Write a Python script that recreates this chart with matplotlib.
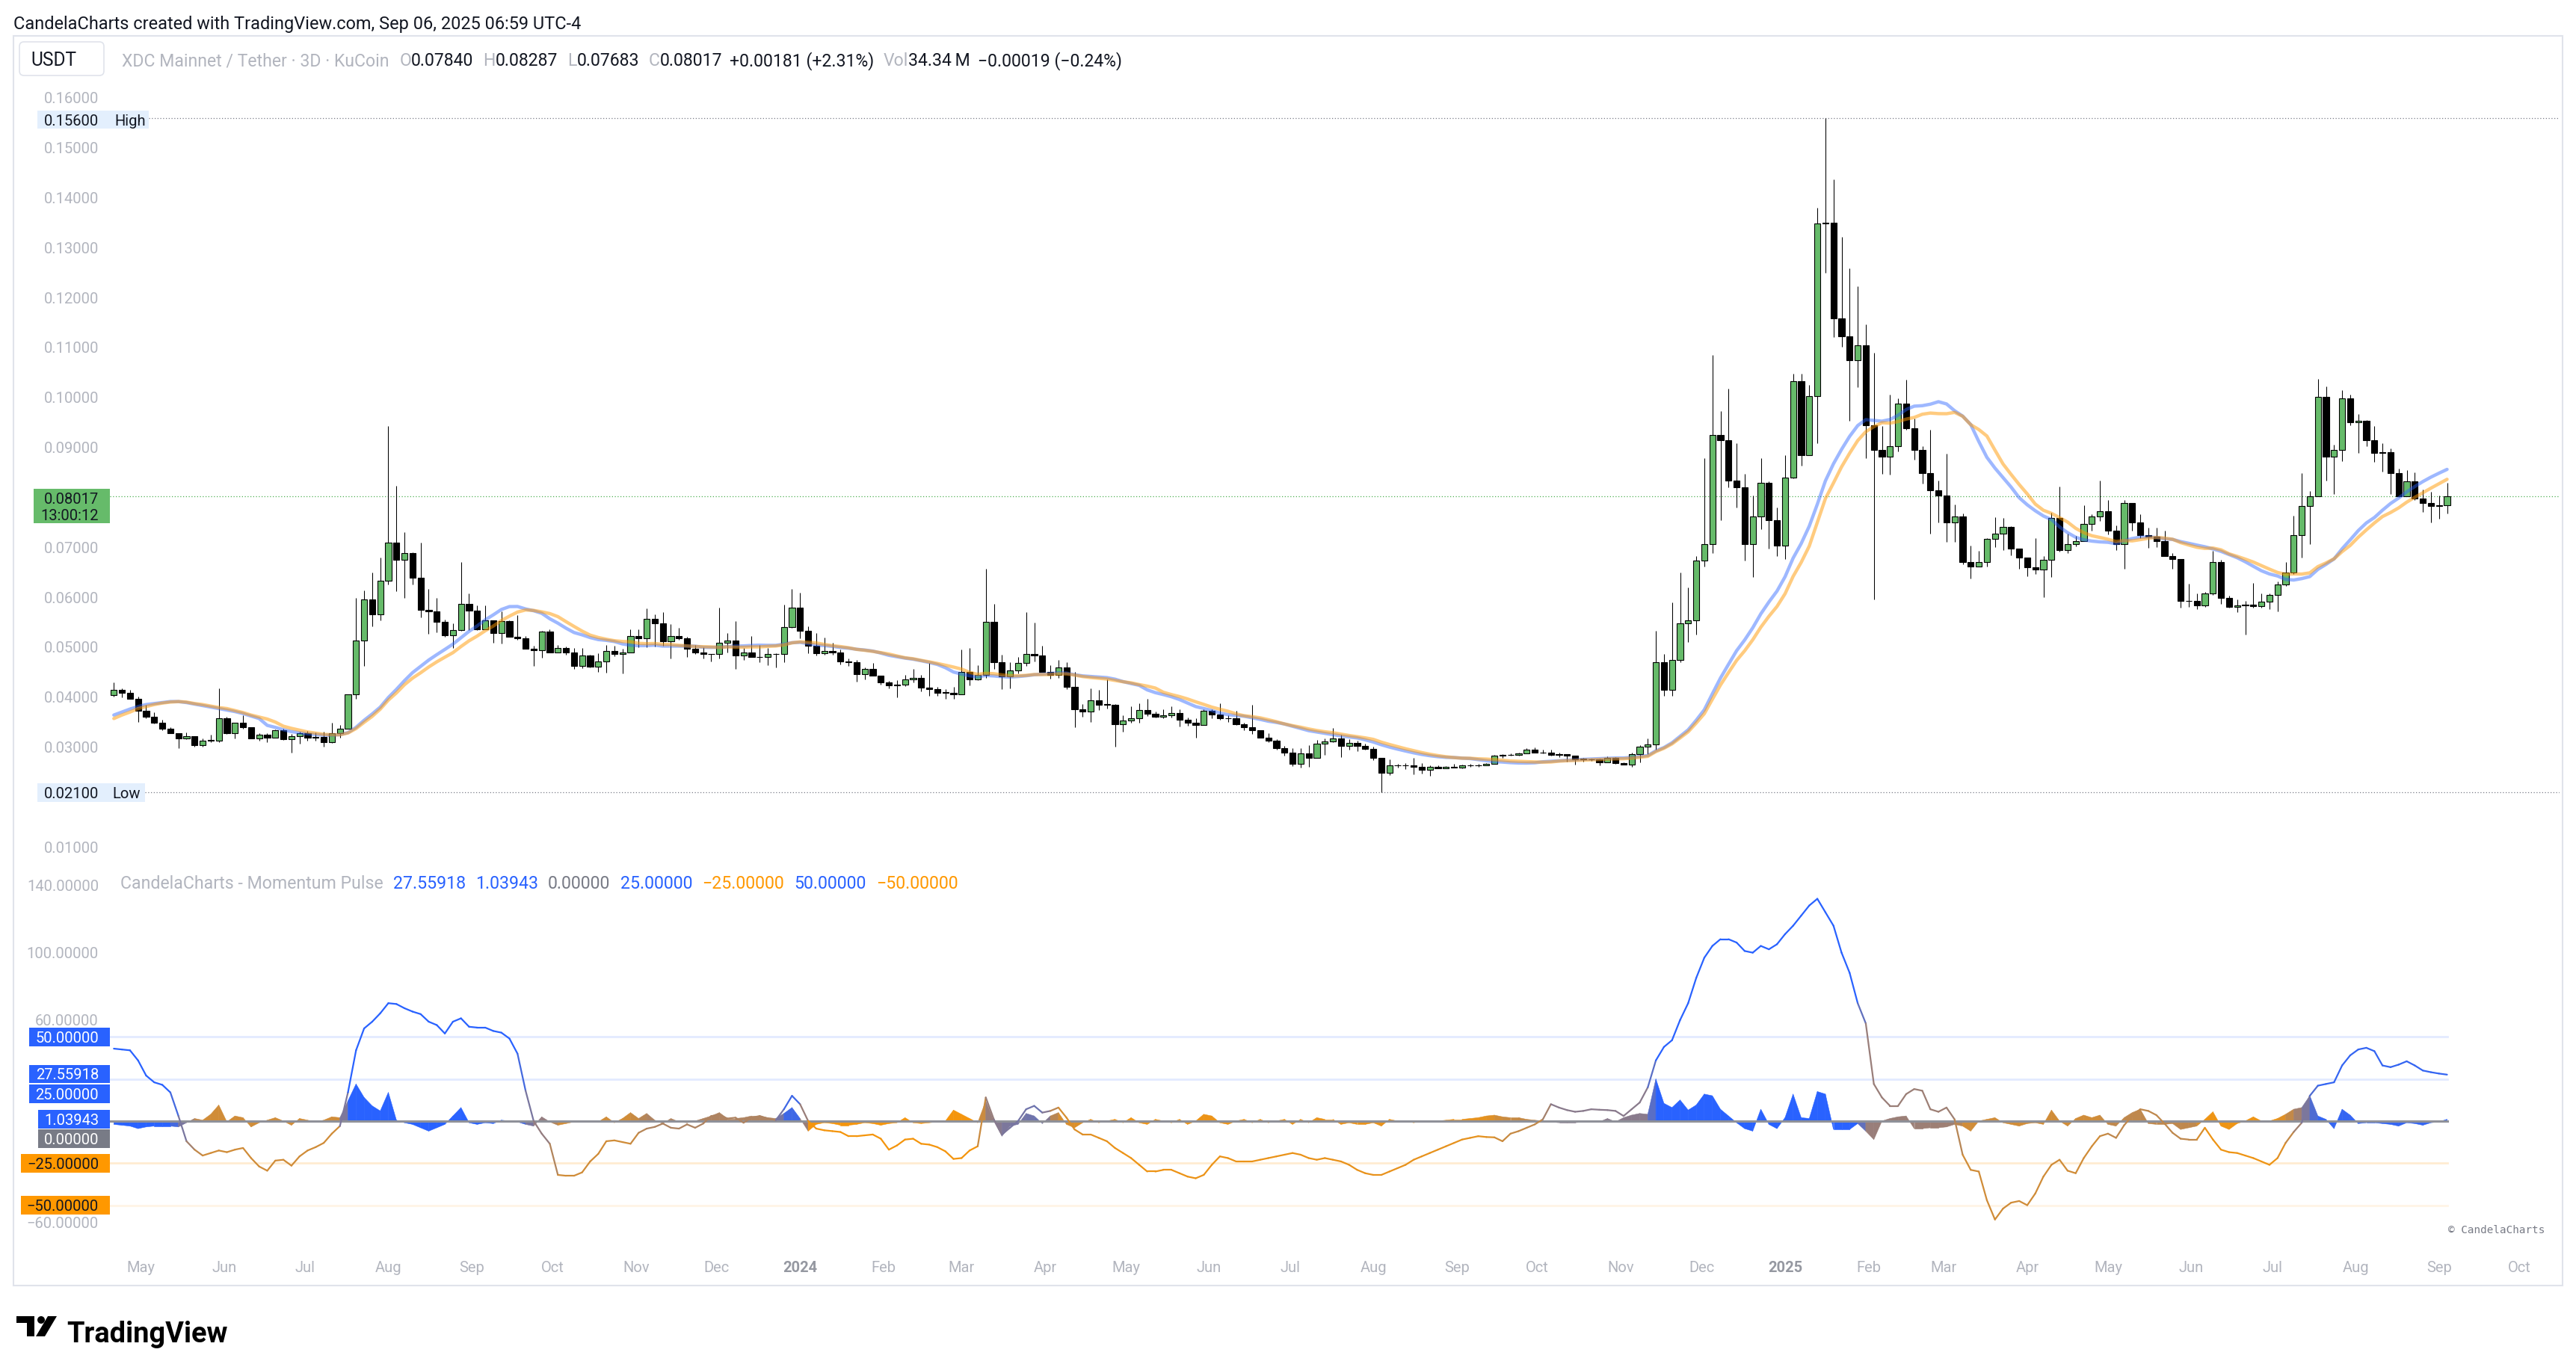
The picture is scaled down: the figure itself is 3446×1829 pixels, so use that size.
import numpy as np
import pandas as pd
import matplotlib
matplotlib.use("Agg")
import matplotlib.pyplot as plt
import matplotlib.dates as mdates
from matplotlib.collections import LineCollection, PolyCollection
from matplotlib.patches import Rectangle, Circle, Polygon, FancyBboxPatch
from matplotlib.transforms import Affine2D

# ---------------- data (3D candles, XDC/USDT KuCoin) ----------------
first_open = 0.0404
closes = [
    .0415, .0409, .0397, .0373, .0360, .0349, .0336, .0328, .0317, .0321,
    .0303, .0313, .0313, .0358, .0327, .0349, .0339, .0317, .0324, .0319,
    .0334, .0315, .0321, .0328, .0319, .0320, .0309, .0328, .0337, .0405,
    .0513, .0595, .0566, .0633, .0710, .0675, .0689, .0639, .0575, .0571,
    .0551, .0524, .0534, .0586, .0573, .0536, .0553, .0528, .0552, .0521,
    .0517, .0497, .0494, .0531, .0490, .0499, .0490, .0463, .0483, .0461,
    .0471, .0493, .0487, .0490, .0522, .0517, .0556, .0547, .0512, .0522,
    .0517, .0497, .0490, .0486, .0486, .0509, .0513, .0483, .0490, .0480,
    .0481, .0486, .0487, .0540, .0579, .0533, .0503, .0488, .0493, .0490,
    .0472, .0470, .0446, .0456, .0443, .0430, .0423, .0425, .0435, .0438,
    .0419, .0416, .0409, .0409, .0406, .0450, .0435, .0445, .0550, .0470,
    .0442, .0454, .0468, .0487, .0484, .0451, .0445, .0460, .0421, .0375,
    .0371, .0394, .0385, .0385, .0345, .0353, .0357, .0374, .0367, .0360,
    .0364, .0368, .0354, .0348, .0344, .0372, .0365, .0357, .0357, .0345,
    .0339, .0333, .0319, .0312, .0297, .0288, .0267, .0287, .0279, .0306,
    .0311, .0317, .0302, .0308, .0302, .0296, .0278, .0248, .0263, .0263,
    .0263, .0261, .0255, .0261, .0258, .0261, .0259, .0263, .0263, .0263,
    .0267, .0282, .0284, .0284, .0287, .0294, .0289, .0288, .0284, .0285,
    .0282, .0276, .0276, .0275, .0270, .0279, .0268, .0265, .0285, .0301,
    .0305, .0470, .0415, .0474, .0548, .0553, .0673, .0707, .0925, .0914,
    .0834, .0820, .0707, .0761, .0829, .0754, .0703, .0840, .1033, .0884,
    .1002, .1349, .1350, .1159, .1123, .1075, .1105, .0945, .0895, .0882,
    .0903, .0987, .0939, .0895, .0848, .0814, .0803, .0750, .0761, .0670,
    .0662, .0670, .0717, .0727, .0741, .0697, .0680, .0660, .0655, .0675,
    .0758, .0695, .0706, .0712, .0747, .0761, .0772, .0733, .0707, .0788,
    .0749, .0725, .0721, .0712, .0683, .0676, .0592, .0592, .0583, .0608,
    .0671, .0598, .0580, .0584, .0585, .0582, .0591, .0605, .0625, .0650,
    .0725, .0782, .0802, .1001, .0882, .0895, .0998, .0950, .0953, .0915,
    .0889, .0890, .0849, .0802, .0832, .0797, .0789, .0783, .0784, .08017,
]
highs = [
    .0429, .0417, .0414, .0401, .0384, .0370, .0354, .0340, .0328, .0329,
    .0322, .0317, .0324, .0417, .0360, .0349, .0364, .0340, .0328, .0328,
    .0335, .0336, .0326, .0330, .0332, .0329, .0330, .0348, .0344, .0406,
    .0598, .0613, .0649, .0679, .0943, .0823, .0731, .0690, .0709, .0616,
    .0598, .0555, .0548, .0670, .0608, .0584, .0584, .0553, .0571, .0554,
    .0564, .0522, .0503, .0533, .0536, .0504, .0501, .0498, .0498, .0485,
    .0488, .0504, .0503, .0497, .0536, .0536, .0578, .0565, .0570, .0546,
    .0539, .0521, .0505, .0500, .0487, .0579, .0528, .0552, .0498, .0522,
    .0505, .0498, .0488, .0585, .0616, .0609, .0542, .0528, .0519, .0509,
    .0495, .0477, .0475, .0459, .0468, .0443, .0433, .0434, .0445, .0456,
    .0445, .0468, .0420, .0416, .0421, .0495, .0498, .0464, .0657, .0586,
    .0485, .0470, .0480, .0570, .0549, .0503, .0464, .0474, .0470, .0451,
    .0386, .0418, .0414, .0435, .0386, .0363, .0381, .0387, .0396, .0371,
    .0376, .0381, .0376, .0359, .0358, .0376, .0375, .0388, .0364, .0372,
    .0349, .0384, .0334, .0327, .0315, .0302, .0297, .0297, .0303, .0314,
    .0317, .0338, .0324, .0315, .0313, .0306, .0301, .0279, .0275, .0266,
    .0268, .0278, .0268, .0263, .0264, .0262, .0266, .0265, .0266, .0266,
    .0268, .0284, .0285, .0287, .0288, .0297, .0299, .0294, .0294, .0288,
    .0286, .0283, .0279, .0277, .0277, .0281, .0280, .0269, .0288, .0303,
    .0317, .0532, .0486, .0590, .0649, .0620, .0682, .0879, .1085, .0973,
    .1018, .0908, .0847, .0804, .0878, .0832, .0779, .0885, .1048, .1047,
    .1025, .1380, .1560, .1437, .1321, .1258, .1222, .1146, .1090, .0943,
    .1006, .0998, .1036, .0958, .0902, .0936, .0834, .0888, .0785, .0767,
    .0703, .0693, .0718, .0760, .0758, .0742, .0698, .0680, .0718, .0682,
    .0769, .0821, .0728, .0723, .0784, .0766, .0833, .0794, .0744, .0794,
    .0789, .0766, .0739, .0739, .0733, .0689, .0676, .0627, .0608, .0611,
    .0693, .0675, .0603, .0596, .0593, .0628, .0608, .0608, .0632, .0670,
    .0763, .0848, .0813, .1037, .1022, .0905, .1015, .1005, .0967, .0955,
    .0943, .0909, .0898, .0858, .0854, .0850, .0816, .0811, .0804, .08287,
]
lows = [
    .0401, .0400, .0396, .0350, .0358, .0347, .0333, .0327, .0298, .0315,
    .0301, .0301, .0309, .0310, .0326, .0317, .0336, .0317, .0312, .0309,
    .0318, .0314, .0289, .0307, .0313, .0313, .0301, .0308, .0319, .0337,
    .0396, .0463, .0542, .0554, .0626, .0612, .0599, .0625, .0559, .0526,
    .0529, .0521, .0499, .0533, .0534, .0534, .0535, .0509, .0508, .0520,
    .0514, .0497, .0463, .0479, .0490, .0490, .0485, .0457, .0458, .0459,
    .0451, .0449, .0482, .0448, .0490, .0500, .0500, .0502, .0503, .0478,
    .0514, .0481, .0486, .0478, .0472, .0478, .0489, .0457, .0475, .0480,
    .0470, .0464, .0460, .0470, .0539, .0518, .0488, .0484, .0485, .0485,
    .0465, .0463, .0431, .0436, .0443, .0425, .0418, .0400, .0422, .0430,
    .0412, .0402, .0402, .0397, .0397, .0405, .0424, .0434, .0439, .0456,
    .0416, .0418, .0448, .0463, .0472, .0451, .0437, .0439, .0416, .0340,
    .0361, .0350, .0374, .0377, .0300, .0330, .0349, .0349, .0362, .0359,
    .0357, .0359, .0341, .0343, .0319, .0344, .0358, .0355, .0350, .0344,
    .0334, .0326, .0318, .0310, .0294, .0282, .0262, .0259, .0260, .0279,
    .0284, .0309, .0280, .0294, .0291, .0294, .0274, .0210, .0244, .0259,
    .0256, .0246, .0247, .0242, .0257, .0257, .0259, .0258, .0261, .0261,
    .0263, .0267, .0278, .0283, .0283, .0287, .0288, .0287, .0283, .0280,
    .0271, .0265, .0271, .0273, .0263, .0270, .0267, .0265, .0260, .0270,
    .0285, .0294, .0402, .0402, .0470, .0511, .0525, .0662, .0689, .0754,
    .0820, .0779, .0674, .0640, .0737, .0697, .0682, .0676, .0838, .0863,
    .0884, .0909, .1250, .1121, .1101, .0953, .1020, .0878, .0596, .0847,
    .0846, .0892, .0936, .0875, .0828, .0727, .0750, .0711, .0711, .0666,
    .0638, .0661, .0661, .0700, .0694, .0684, .0657, .0642, .0647, .0600,
    .0640, .0692, .0688, .0702, .0712, .0734, .0753, .0726, .0694, .0657,
    .0733, .0719, .0699, .0701, .0683, .0657, .0579, .0581, .0576, .0580,
    .0605, .0586, .0579, .0570, .0525, .0579, .0579, .0576, .0571, .0622,
    .0647, .0680, .0707, .0802, .0833, .0806, .0872, .0945, .0889, .0903,
    .0871, .0852, .0806, .0800, .0802, .0795, .0770, .0750, .0757, .07683,
]
# moving averages before enough history is on screen
ma_fast_head = [.0364, .0370, .0376, .0381, .0385, .0387, .0389, .0391, .0391, .0389,
                .0386, .0383, .0380, .0377, .0374, .0371, .0367, .0362, .0357]
ma_slow_head = [.0357, .0364, .0370, .0377, .0381, .0385, .0388, .0390, .0391, .0390,
                .0387, .0385, .0382, .0379, .0377, .0373, .0369, .0364, .0360, .0356, .0350]
# Momentum Pulse: main line and filled histogram
momentum = [
    43, 42.5, 42, 36, 27, 23, 21.5, 17, 3, -12,
    -17, -20.5, -19, -17.5, -18.5, -17, -16, -22, -27, -29.5,
    -23.5, -23, -26.5, -21, -17.5, -15.5, -13, -7.5, -3, 17,
    42, 55, 59, 64, 70, 69.5, 67, 65, 63.5, 59,
    57, 52, 59, 61, 56, 55.5, 55.5, 53.5, 52.5, 49,
    40, 18, 0, -7.5, -13.5, -32, -32.5, -32.5, -30.5, -24,
    -19.5, -12, -11.5, -12.5, -13.5, -7, -4.5, -3.5, -1.5, -4,
    -4.5, -2, -4, -1.5, 3, 3.5, 1.5, 2, -1, 2,
    3, 1.5, 0.5, 7, 15, 10, 0, -4.5, -5.5, -6,
    -6.5, -9, -9, -8.5, -8, -10.5, -17, -14.5, -11, -10.5,
    -13.5, -14, -15.5, -18, -22.5, -22, -17.5, -15, 14, 1,
    -8, -4, 0, 7, 9, 5, 6, 8, 2, -5,
    -8, -8, -10, -12, -16, -19, -22, -26, -30, -30,
    -29, -29, -31, -33, -34, -32, -26, -21, -22, -24,
    -24, -24, -23, -22, -21, -20, -19, -20, -22, -23,
    -22, -23, -24, -26, -29, -31, -32, -32, -30, -28,
    -26, -23, -21, -19, -17, -15, -13, -11, -10, -9,
    -9.5, -9.7, -12, -7.5, -6, -4, -2, 1, 10, 8,
    6.5, 5.5, 6, 7, 6.7, 6.5, 6, 3, 7, 11,
    20, 36, 44, 48, 60, 70, 85, 97, 104, 108,
    108, 106, 101, 100, 104, 102, 105, 111, 116, 122,
    128, 132, 124, 116, 100, 88, 70, 58, 22, 14,
    9, 9, 16, 19, 18, 7, 5.5, 8, 1, -20,
    -29, -30, -47, -58.5, -52, -48.5, -47.5, -50, -43, -33,
    -26, -23, -29.5, -31, -22, -15, -9, -7.5, -10, -2.5,
    3, 7, 6, 3.5, -1.5, -7, -10.5, -11, -11, -4,
    -11, -17, -18.5, -19, -20.5, -22, -24, -26, -22, -13,
    -6.5, -1, 15, 21, 22, 23, 33, 39, 42.5, 43.5,
    41.5, 33, 32, 33.5, 35.5, 33, 30, 29, 28.2, 27.55918,
]
pulse = [
    -2, -2.5, -3, -4.5, -3.5, -3, -3, -3, -3.5, -1,
    1.5, 0.5, 4, 9.5, -0.5, 3, 2, -3.5, -1, 0.5,
    2, 0, -2.5, 1.5, 0.5, -0.5, 0.5, 2.5, 2, 12,
    22, 14, 9, 6, 17, 0.5, -1, -2, -4, -6,
    -4, -2, 3, 8, -1, -2, -1, -1.5, 0.5, 0,
    -0.5, -2, -3, 2.5, -0.5, -2.5, -1.5, -0.5, -0.5, -0.5,
    -0.5, 2.5, -1, 1.5, 5, 1.5, 4.5, 0.5, -1.5, 1.5,
    -0.5, -1, 0, 1.5, 3, 5, 1.5, 1.5, 2, 3,
    3, 2, 1.5, 4.5, 8, 1.5, -6, -2, -1, -1.5,
    -2.5, -2.5, -2, -1, -1.5, -2.5, -1.5, -1, 2, -1,
    -1.5, -1, -0.5, 0, 6.5, 4, 1.5, -1, 12, 0,
    -9, -3, -2, 4.5, 3, -1.5, 3, 5, -2, -4,
    -1, 1, -1, 0, 1, -1, 2, -1, -2, 1,
    0, -1, 1, -2, 0, 4, 3, -1, -2, 0,
    1, -1, 1, -1, 0, 1, -2, 1, -1, 2,
    1, 1, -2, -1, -2, -2, -1, -3, 1, 0,
    0, -1, 0, 0, 0, 0.5, 1, 1, 1.5, 2,
    3, 3.5, 2.5, 2, 2, 1, 0.5, 0, -0.5, -1,
    -1, -1, -0.5, -0.5, -0.5, 1.5, -0.5, 2, 3.5, 4.5,
    4, 25, 10.5, 8, 12.5, 6.5, 9.5, 16, 15, 7,
    3, -1, -4.5, -6, 7, -2, -4.5, 2, 16, 2,
    1.5, 17.5, 16, -5, -5, -5, -1.5, -6, -11, 0,
    1.5, 2.5, 3, -4.5, -4.5, -4, -4, -3.5, -2, -3,
    -6, 0, 1, 2, -1, -2, -3, -1.5, -1, -2,
    6.5, 0, -3, 1.5, 3.5, 2, 3.5, -2, -3, 2,
    5, 7, -1.5, -2, -2, -1.5, -5, -4, -3, 1,
    5.5, -3, -5, -1.5, 0, 2.5, 0, 0, 1.5, 4,
    7, 8, 15, 3, 1, -4.5, 7, 3.5, -1.5, -1,
    -1, -1.5, -2, -3, -1, -1.5, -2.5, -1, -0.5, 1.03943,
]
levels_up = [50, 25]
price_ticks = [0.01, 0.03, 0.04, 0.05, 0.06, 0.07, 0.09, 0.10,
               0.11, 0.12, 0.13, 0.14, 0.15, 0.16]
osc_ticks = [140, 100, 60, -60]

# ---------------- figure / helpers ----------------
W, H = 3446, 1829
fig = plt.figure(figsize=(W / 100, H / 100), dpi=100)
plt.rcParams['font.family'] = ['Roboto', 'DejaVu Sans']
pxT = Affine2D().scale(1.0 / W, -1.0 / H).translate(0, 1) + fig.transFigure
renderer = fig.canvas.get_renderer()

TICK = '#b2b5be'
DARK = '#131722'
BLUE = '#2962ff'
ORANGE = '#ff9800'
FS = 14.5

PL, PR = 147, 3424            # plot left/right in px
ax = fig.add_axes([PL / W, 1 - 1150 / H, (PR - PL) / W, (1150 - 110) / H])
axi = fig.add_axes([PL / W, 1 - 1672 / H, (PR - PL) / W, (1672 - 1150) / H])

dates = pd.date_range('2023-04-21', periods=len(closes), freq='3D')
x = mdates.date2num(dates)
xl, xr = x[0] - 1.47, x[0] + 908.8
px_per_day = (PR - PL) / (xr - xl)

c = np.array(closes)
o = np.r_[first_open, c[:-1]]
hi = np.maximum(np.array(highs), np.maximum(o, c))
lo = np.minimum(np.array(lows), np.minimum(o, c))

for a in (ax, axi):
    a.set_xlim(xl, xr)
    for s in a.spines.values():
        s.set_visible(False)
    a.set_xticks([])
    a.patch.set_alpha(0)

# ---------------- price pane ----------------
ax.set_ylim(0.007469, 0.163134)
up = c >= o
ax.vlines(x, lo, hi, color='black', lw=0.75, zorder=2)
ax.bar(x, np.maximum(np.abs(c - o), 0.00008), bottom=np.minimum(o, c), width=2.25,
       color=np.where(up, '#66bb6a', '#000000'), edgecolor='black', linewidth=0.8, zorder=3)

ma_fast = pd.Series(c).rolling(20).mean().to_numpy()
ma_slow = pd.Series(c).rolling(22).mean().to_numpy()
ma_fast[:len(ma_fast_head)] = ma_fast_head
ma_slow[:len(ma_slow_head)] = ma_slow_head
ax.plot(x, ma_fast, color=BLUE, alpha=0.45, lw=3.2, zorder=4, solid_capstyle='round')
ax.plot(x, ma_slow, color=ORANGE, alpha=0.5, lw=3.2, zorder=4, solid_capstyle='round')

ax.plot([xl + (199 - PL) / px_per_day, xr], [0.156, 0.156], color='#787b86', lw=0.9, ls=(0, (1, 2)), zorder=1)
ax.plot([xl + (194 - PL) / px_per_day, xr], [0.021, 0.021], color='#787b86', lw=0.9, ls=(0, (1, 2)), zorder=1)
ax.plot([xl, xr], [0.08017, 0.08017], color='#4caf50', lw=0.9, ls=(0, (1, 2)), zorder=1)

ax.set_yticks(price_ticks)
ax.set_yticklabels([f'{t:.5f}' for t in price_ticks])
ax.tick_params(axis='y', length=0, pad=10.8, labelsize=FS, labelcolor=TICK)

# ---------------- oscillator pane ----------------
axi.set_ylim(-76.40, 155.33)
mom = np.array(momentum)
pul = np.array(pulse)

tone_keys = [(0, 1.0), (7, 1.0), (9, 0.5), (11, 0.22), (28, 0.22), (29, 1.0), (50, 1.0),
             (52, 0.5), (54, 0.5), (55, 0.22), (64, 0.22), (66, 0.38), (82, 0.38), (83, 0.9),
             (85, 0.9), (86, 0.05), (107, 0.05), (108, 0.45), (110, 0.6), (115, 0.7),
             (117, 0.2), (125, 0.08), (170, 0.12), (172, 0.25), (177, 0.3), (178, 0.55),
             (190, 0.55), (191, 1.0), (216, 1.0), (217, 0.48), (228, 0.45), (229, 0.22),
             (246, 0.22), (247, 0.3), (258, 0.3), (259, 0.08), (268, 0.08), (270, 0.35),
             (272, 0.7), (273, 0.95), (289, 0.95)]
kx, kv = zip(*tone_keys)
tone = np.interp(np.arange(len(x)), kx, kv)
c_or = np.array([255, 152, 0]) / 255
c_bl = np.array([41, 98, 255]) / 255
cols = [tuple(c_or * (1 - t) + c_bl * t) for t in tone]
seg_cols = [tuple((np.array(cols[i]) + np.array(cols[i + 1])) / 2) for i in range(len(x) - 1)]

x_last = x[-1]
for lv in levels_up:
    axi.plot([xl, x_last], [lv, lv], color=BLUE, alpha=0.13, lw=2.0, zorder=1)
axi.plot([xl, x_last], [-25, -25], color=ORANGE, alpha=0.18, lw=2.0, zorder=1)
axi.plot([xl, x_last], [-50, -50], color=ORANGE, alpha=0.1, lw=2.0, zorder=1)

polys = [[(x[i], 0), (x[i], pul[i]), (x[i + 1], pul[i + 1]), (x[i + 1], 0)] for i in range(len(x) - 1)]
axi.add_collection(PolyCollection(polys, facecolors=seg_cols, edgecolors=seg_cols, linewidths=0.4, zorder=2))
axi.plot([xl, x_last], [0, 0], color='#8f9199', lw=2.2, zorder=3)
segs = [[(x[i], mom[i]), (x[i + 1], mom[i + 1])] for i in range(len(x) - 1)]
axi.add_collection(LineCollection(segs, colors=seg_cols, linewidths=1.6, zorder=4, capstyle='round'))

axi.set_yticks(osc_ticks)
axi.set_yticklabels([f'{t:.5f}'.replace('-', '\u2212') for t in osc_ticks])
axi.tick_params(axis='y', length=0, pad=10.8, labelsize=FS, labelcolor=TICK)

# ---------------- month labels ----------------
months = pd.date_range('2023-05-01', '2025-10-01', freq='MS')
for d in months:
    xp = PL + (mdates.date2num(d) - xl) * px_per_day
    if d.month == 1:
        fig.text(xp / W, 1 - 1697 / H, str(d.year), ha='center', va='center', fontsize=FS,
                 color='#9598a1', fontweight='bold')
    else:
        fig.text(xp / W, 1 - 1697 / H, d.strftime('%b'), ha='center', va='center', fontsize=FS, color=TICK)


# ---------------- label boxes on the scale ----------------
def scale_box(x0, y0, y1, text, face, tcolor, x1=147, tx=132):
    fig.patches.append(Rectangle((x0, y0), x1 - x0, y1 - y0, transform=pxT, facecolor=face,
                                 edgecolor='none', zorder=5))
    fig.text(tx, (y0 + y1) / 2, text, transform=pxT, ha='right', va='center_baseline', fontsize=FS,
             color=tcolor, zorder=6)


scale_box(50, 148, 172, '0.15600', '#e3effd', DARK, x1=199)
fig.text(153, 160, 'High', transform=pxT, ha='left', va='center_baseline', fontsize=FS, color=DARK, zorder=6)
scale_box(50, 1048, 1073, '0.02100', '#e3effd', DARK, x1=194)
fig.text(150, 1060.5, 'Low', transform=pxT, ha='left', va='center_baseline', fontsize=FS, color=DARK, zorder=6)

fig.patches.append(Rectangle((45, 654), 102, 46, transform=pxT, facecolor='#66bb6a', edgecolor='none', zorder=5))
fig.text(132, 666, '0.08017', transform=pxT, ha='right', va='center_baseline', fontsize=FS, color=DARK, zorder=6)
fig.text(132, 689, '13:00:12', transform=pxT, ha='right', va='center_baseline', fontsize=FS, color=DARK, zorder=6)

scale_box(39, 1375, 1400, '50.00000', BLUE, 'white')
scale_box(39, 1425, 1449, '27.55918', BLUE, 'white')
scale_box(39, 1451, 1476, '25.00000', BLUE, 'white')
scale_box(51, 1485, 1510, '1.03943', BLUE, 'white')
scale_box(51, 1511, 1536, '0.00000', '#787b86', 'white')
scale_box(28, 1544, 1569, '\u221225.00000', ORANGE, DARK)
scale_box(28, 1600, 1625, '\u221250.00000', ORANGE, DARK)


# ---------------- text rows ----------------
def draw_row(pieces, x0, x1, y, weight='normal', family=None):
    arts, widths = [], []
    for s, col, gap in pieces:
        kw = dict(transform=pxT, ha='left', va='center_baseline', fontsize=10, color=col,
                  fontweight=weight, zorder=7)
        if family:
            kw['family'] = family
        t = fig.text(x0, y, s, **kw)
        arts.append(t)
        widths.append(t.get_window_extent(renderer).width)
    total = sum(widths) + sum(p[2] for p in pieces)
    k = (x1 - x0) / total
    cur = x0
    for t, w, p in zip(arts, widths, pieces):
        t.set_fontsize(10 * k)
        t.set_x(cur)
        cur += (w + p[2]) * k


draw_row([('CandelaCharts created with TradingView.com, Sep 06, 2025 06:59 UTC-4', DARK, 0)], 18, 773, 30)

fig.patches.append(FancyBboxPatch((26, 56), 113, 45, boxstyle='round,pad=0,rounding_size=6', transform=pxT,
                                  facecolor='white', edgecolor='#e0e3eb', lw=1.2, zorder=5))
draw_row([('USDT', DARK, 0)], 41, 102, 79)
G = 8
draw_row([('XDC Mainnet / Tether \u00b7 3D \u00b7 KuCoin', TICK, G), ('O', TICK, 0), ('0.07840', DARK, G),
          ('H', TICK, 0), ('0.08287', DARK, G), ('L', TICK, 0), ('0.07683', DARK, G),
          ('C', TICK, 0), ('0.08017', DARK, 6), ('+0.00181 (+2.31%)', DARK, G),
          ('Vol', TICK, 0), ('34.34\u2009M', DARK, 6), ('\u22120.00019 (\u22120.24%)', DARK, 0)],
         163, 1501, 79)

draw_row([('CandelaCharts - Momentum Pulse', TICK, G), ('27.55918', BLUE, G), ('1.03943', BLUE, G),
          ('0.00000', '#787b86', G), ('25.00000', BLUE, G), ('\u221225.00000', ORANGE, G),
          ('50.00000', BLUE, G), ('\u221250.00000', ORANGE, 0)], 161, 1282, 1180)

draw_row([('\u00a9 CandelaCharts', '#787b86', 0)], 3275, 3404, 1644, family='DejaVu Sans Mono')

# frame
fig.patches.append(Rectangle((18, 48), 3410, 1672, transform=pxT, facecolor='none', edgecolor='#e0e3eb',
                             lw=1.5, zorder=0))

# TradingView logo
fig.patches.append(Polygon([(22, 1761), (46, 1761), (46, 1788), (36, 1788), (36, 1770), (22, 1770)],
                           closed=True, transform=pxT, facecolor='black', zorder=5))
fig.patches.append(Circle((55, 1766), 5, transform=pxT, facecolor='black', zorder=5))
fig.patches.append(Polygon([(48, 1788), (60, 1788), (76, 1761), (64, 1761)], closed=True, transform=pxT,
                           facecolor='black', zorder=5))
draw_row([('TradingView', 'black', 0)], 89, 305, 1782, weight='bold')

fig.savefig('out.png', dpi=100, facecolor='white')
